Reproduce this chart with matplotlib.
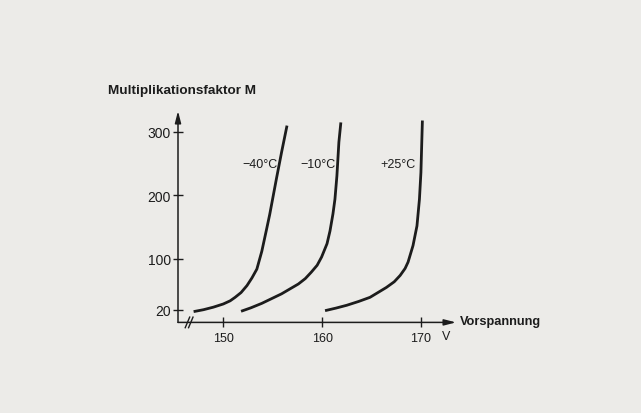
import matplotlib
matplotlib.use("Agg")
import matplotlib.pyplot as plt
from matplotlib.lines import Line2D

# ---- data ----
v_m40 = [147.0, 148.0, 149.0, 150.0, 150.7, 151.2, 151.8, 152.4, 152.9, 153.4, 153.9, 154.4, 154.7, 155.4, 155.9, 156.45]
m_m40 = [17, 20, 24, 29, 34, 39.5, 47, 58, 70, 84, 112, 148, 170, 228, 268, 310]

v_m10 = [151.8, 152.8, 153.9, 155.9, 157.6, 158.3, 158.9, 159.5, 159.95, 160.5, 160.8, 161.1, 161.3, 161.5, 161.7, 161.9]
m_m10 = [17.5, 23, 30, 45, 60.5, 69, 79, 90, 103, 124, 144, 171, 194, 231, 284, 315]

v_p25 = [160.3, 161.4, 162.5, 163.7, 164.85, 166.5, 167.3, 167.9, 168.4, 168.7, 169.2, 169.6, 169.85, 170.0, 170.15]
m_p25 = [18.5, 22.5, 27, 33, 39.5, 55, 64, 74, 85, 95, 121, 152, 194, 236, 318]

curve_labels = ["\u221240\u00b0C", "\u221210\u00b0C", "+25\u00b0C"]
label_pos_v = [153.68, 159.6, 167.66]
label_pos_m = [250, 250, 250]

x_ticks = [150, 160, 170]
y_ticks = [20, 100, 200, 300]
y_title = "Multiplikationsfaktor M"
x_title = "Vorspannung"
x_unit = "V"

# ---- figure ----
W, H = 641, 414
bg = "#ecebe8"
ink = "#1c1c1c"
plt.rcParams['font.family'] = ['Liberation Sans', 'DejaVu Sans']

fig = plt.figure(figsize=(W / 100, H / 100), dpi=100, facecolor=bg)
left_px, right_px, top_px, bot_px = 178, 456, 112, 323.4
ax = fig.add_axes([left_px / W, 1 - bot_px / H, (right_px - left_px) / W, (bot_px - top_px) / H])
ax.set_facecolor(bg)
ax.set_xlim(145.42, 173.55)
ax.set_ylim(0, 333)

for s in ["top", "right", "left", "bottom"]:
    ax.spines[s].set_visible(False)

ax.set_xticks(x_ticks)
ax.set_yticks(y_ticks)
ax.tick_params(axis='both', direction='inout', length=7, width=1.0, color=ink,
               labelsize=9, labelcolor=ink)
ax.tick_params(axis='x', pad=3.5)
ax.tick_params(axis='y', pad=1.5, labelsize=10)

# axes with arrowheads
arrow_kw = dict(arrowstyle='-|>,head_length=0.7,head_width=0.18', color=ink, lw=1.1,
                shrinkA=0, shrinkB=0)
ax.annotate('', xy=(1, 0), xytext=(0, 0), xycoords='axes fraction',
            textcoords='axes fraction', arrowprops=arrow_kw, annotation_clip=False)
ax.annotate('', xy=(0, 1), xytext=(0, 0), xycoords='axes fraction',
            textcoords='axes fraction', arrowprops=arrow_kw, annotation_clip=False)

# axis break marks
for dx in (-0.006, 0.006):
    xb = 0.04 + dx
    ax.add_line(Line2D([xb - 0.008, xb + 0.008], [-0.025, 0.025], color=ink, lw=1.0,
                       transform=ax.transAxes, clip_on=False))

# curves
for v, m in [(v_m40, m_m40), (v_m10, m_m10), (v_p25, m_p25)]:
    ax.plot(v, m, color=ink, lw=2.0, solid_capstyle='butt', solid_joinstyle='round')

for lab, lv, lm in zip(curve_labels, label_pos_v, label_pos_m):
    ax.text(lv, lm, lab, fontsize=9, color=ink, ha='center', va='center')

# titles
fig.text(108 / W, 1 - 91 / H, y_title, fontsize=9.7, fontweight='bold', color=ink,
         ha='left', va='center')
fig.text(460 / W, 1 - 322 / H, x_title, fontsize=9.2, fontweight='bold', color=ink,
         ha='left', va='center')
ax.text(172.6, -22, x_unit, fontsize=9, color=ink, ha='center', va='center')

fig.savefig("out.png", dpi=100, facecolor=bg)
